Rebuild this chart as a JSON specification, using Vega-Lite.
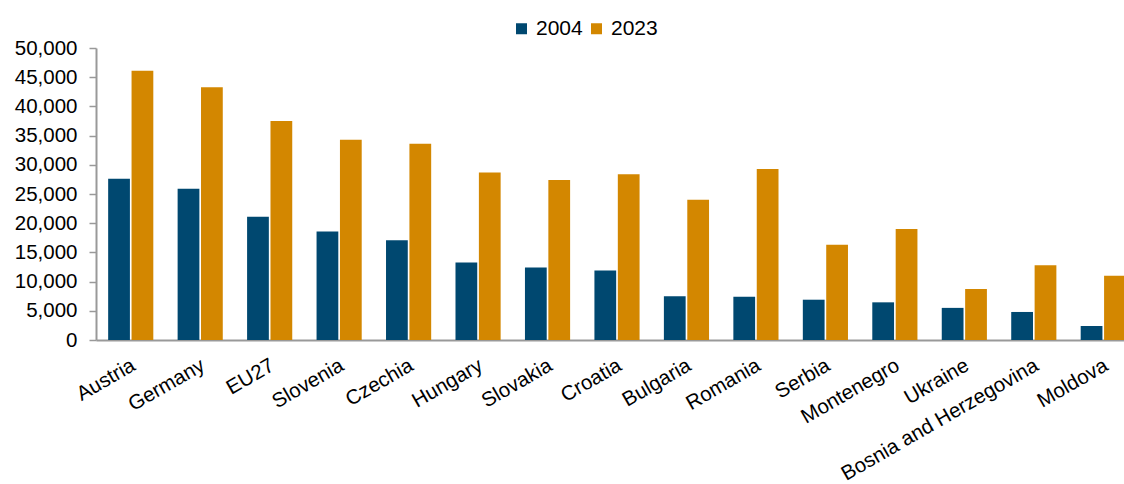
{
  "$schema": "https://vega.github.io/schema/vega-lite/v6.json",
  "autosize": {"type": "none"},
  "padding": {"left": 96, "top": 48, "right": 0, "bottom": 144},
  "width": 1042,
  "height": 292,
  "background": "white",
  "data": {"values": [
    {"country": "Austria", "year": "2004", "value": 27600},
    {"country": "Austria", "year": "2023", "value": 46100},
    {"country": "Germany", "year": "2004", "value": 25900},
    {"country": "Germany", "year": "2023", "value": 43300},
    {"country": "EU27", "year": "2004", "value": 21100},
    {"country": "EU27", "year": "2023", "value": 37500},
    {"country": "Slovenia", "year": "2004", "value": 18600},
    {"country": "Slovenia", "year": "2023", "value": 34300},
    {"country": "Czechia", "year": "2004", "value": 17100},
    {"country": "Czechia", "year": "2023", "value": 33600},
    {"country": "Hungary", "year": "2004", "value": 13250},
    {"country": "Hungary", "year": "2023", "value": 28700},
    {"country": "Slovakia", "year": "2004", "value": 12400},
    {"country": "Slovakia", "year": "2023", "value": 27400},
    {"country": "Croatia", "year": "2004", "value": 11900},
    {"country": "Croatia", "year": "2023", "value": 28400},
    {"country": "Bulgaria", "year": "2004", "value": 7500},
    {"country": "Bulgaria", "year": "2023", "value": 24000},
    {"country": "Romania", "year": "2004", "value": 7400},
    {"country": "Romania", "year": "2023", "value": 29300},
    {"country": "Serbia", "year": "2004", "value": 6900},
    {"country": "Serbia", "year": "2023", "value": 16300},
    {"country": "Montenegro", "year": "2004", "value": 6450},
    {"country": "Montenegro", "year": "2023", "value": 19000},
    {"country": "Ukraine", "year": "2004", "value": 5500},
    {"country": "Ukraine", "year": "2023", "value": 8750},
    {"country": "Bosnia and Herzegovina", "year": "2004", "value": 4800},
    {"country": "Bosnia and Herzegovina", "year": "2023", "value": 12800},
    {"country": "Moldova", "year": "2004", "value": 2400},
    {"country": "Moldova", "year": "2023", "value": 11000}
  ]},
  "mark": {"type": "bar"},
  "encoding": {
    "x": {
      "field": "country", "type": "nominal", "sort": null, "title": null,
      "scale": {"paddingInner": 0.35, "paddingOuter": 0.175},
      "axis": {
        "labelAngle": -30, "labelAlign": "right", "labelBaseline": "top",
        "labelFont": "Liberation Sans", "labelFontSize": 20.5, "labelColor": "#000000",
        "labelPadding": 15, "labelOffset": -2, "labelOverlap": false, "labelLimit": 400,
        "ticks": false, "domainColor": "#999999", "domainWidth": 2, "grid": false
      }
    },
    "xOffset": {"field": "year", "type": "nominal", "scale": {"paddingInner": 0.07}},
    "y": {
      "field": "value", "type": "quantitative", "title": null,
      "scale": {"domain": [0, 50000], "nice": false},
      "axis": {
        "values": [0, 5000, 10000, 15000, 20000, 25000, 30000, 35000, 40000, 45000, 50000],
        "format": ",d",
        "labelFont": "Liberation Sans", "labelFontSize": 20.5, "labelColor": "#000000",
        "labelPadding": 12, "tickSize": 7, "tickColor": "#999999", "tickWidth": 1.5,
        "domainColor": "#999999", "domainWidth": 2, "grid": false
      }
    },
    "color": {
      "field": "year", "type": "nominal", "title": null,
      "scale": {"domain": ["2004", "2023"], "range": ["#004870", "#D38700"]},
      "legend": {
        "orient": "none", "legendX": 415, "legendY": -30, "direction": "horizontal",
        "symbolType": "square", "symbolSize": 121, "symbolStrokeWidth": 0,
        "labelFont": "Liberation Sans", "labelFontSize": 21, "labelColor": "#000000",
        "columnPadding": 3, "labelOffset": 4
      }
    }
  },
  "config": {"view": {"stroke": null}}
}
